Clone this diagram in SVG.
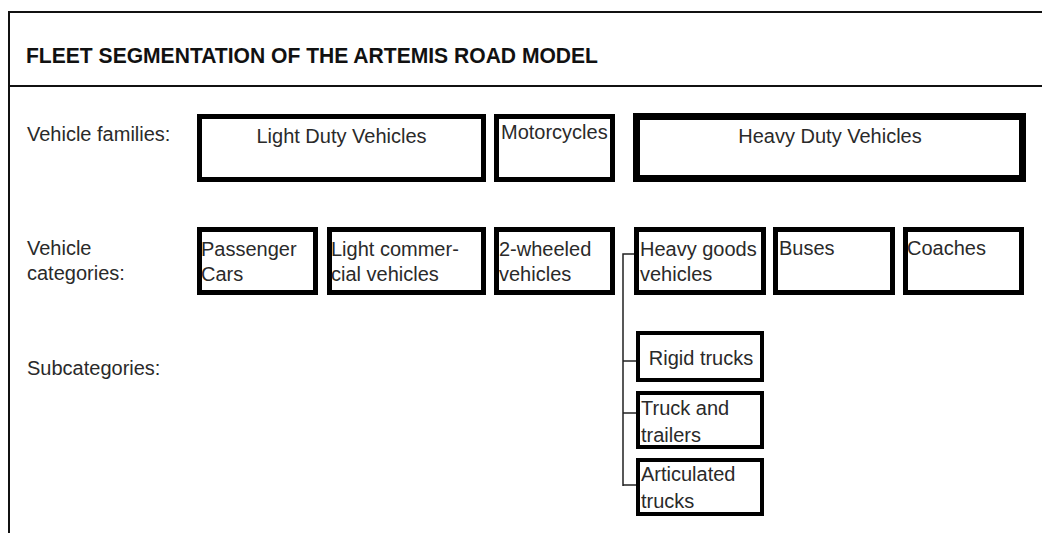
<svg xmlns="http://www.w3.org/2000/svg" width="1042" height="533" viewBox="0 0 1042 533">
<style>
  .frame { stroke: #111; stroke-width: 2; fill: none; }
  .box { fill: #fff; stroke: #000; stroke-width: 5; }
  .thick { stroke-width: 7; }
  .thin { stroke-width: 4; }
  .conn { stroke: #222; stroke-width: 1.5; fill: none; }
  text { font-family: "Liberation Sans", Arial, sans-serif; font-size: 20px; fill: #2a2a2a; }
  .title { font-weight: bold; font-size: 22px; fill: #111; }
  .mid { text-anchor: middle; }
</style>
<rect width="1042" height="533" fill="#fff"/>
<g id="frame">
  <line class="frame" x1="8" y1="12" x2="1042" y2="12"/>
  <line class="frame" x1="8" y1="86" x2="1042" y2="86"/>
  <line class="frame" x1="9" y1="11" x2="9" y2="533"/>
  <text class="title" x="26" y="63" textLength="572" lengthAdjust="spacingAndGlyphs">FLEET SEGMENTATION OF THE ARTEMIS ROAD MODEL</text>
</g>
<g id="labels">
  <text x="27" y="141">Vehicle families:</text>
  <text x="27" y="255">Vehicle</text>
  <text x="27" y="280">categories:</text>
  <text x="27" y="375">Subcategories:</text>
</g>
<g id="connectors">
  <polyline class="conn" points="634,254 623,254 623,486"/>
  <line class="conn" x1="623" y1="361" x2="637" y2="361"/>
  <line class="conn" x1="623" y1="413" x2="637" y2="413"/>
  <line class="conn" x1="623" y1="485" x2="637" y2="485"/>
</g>
<g id="light-duty-vehicles">
  <rect class="box" x="199.5" y="116.5" width="284" height="63"/>
  <text class="mid" x="341.5" y="143">Light Duty Vehicles</text>
</g>
<g id="motorcycles">
  <rect class="box" x="496.5" y="116.5" width="116" height="63"/>
  <text x="501" y="139">Motorcycles</text>
</g>
<g id="heavy-duty-vehicles">
  <rect class="box thick" x="636.5" y="116.5" width="386" height="62"/>
  <text class="mid" x="830" y="143">Heavy Duty Vehicles</text>
</g>
<g id="passenger-cars">
  <rect class="box" x="199.5" y="229.5" width="116" height="63"/>
  <text x="201" y="256">Passenger</text>
  <text x="201" y="281">Cars</text>
</g>
<g id="light-commercial-vehicles">
  <rect class="box" x="329.5" y="229.5" width="154" height="63"/>
  <text x="331" y="256">Light commer-</text>
  <text x="331" y="281">cial vehicles</text>
</g>
<g id="two-wheeled-vehicles">
  <rect class="box" x="496.5" y="229.5" width="116" height="63"/>
  <text x="499" y="256">2-wheeled</text>
  <text x="499" y="281">vehicles</text>
</g>
<g id="heavy-goods-vehicles">
  <rect class="box" x="636.5" y="229.5" width="127" height="63"/>
  <text x="640" y="256">Heavy goods</text>
  <text x="640" y="281">vehicles</text>
</g>
<g id="buses">
  <rect class="box" x="775.5" y="229.5" width="117" height="63"/>
  <text x="779" y="255">Buses</text>
</g>
<g id="coaches">
  <rect class="box" x="905.5" y="229.5" width="116" height="63"/>
  <text x="907" y="255">Coaches</text>
</g>
<g id="rigid-trucks">
  <rect class="box thin" x="638" y="333" width="124" height="47"/>
  <text class="mid" x="701" y="365">Rigid trucks</text>
</g>
<g id="truck-and-trailers">
  <rect class="box thin" x="638" y="393" width="124" height="54"/>
  <text x="641" y="415">Truck and</text>
  <text x="641" y="442">trailers</text>
</g>
<g id="articulated-trucks">
  <rect class="box thin" x="638" y="460" width="124" height="54"/>
  <text x="641" y="481">Articulated</text>
  <text x="641" y="508">trucks</text>
</g>
</svg>
